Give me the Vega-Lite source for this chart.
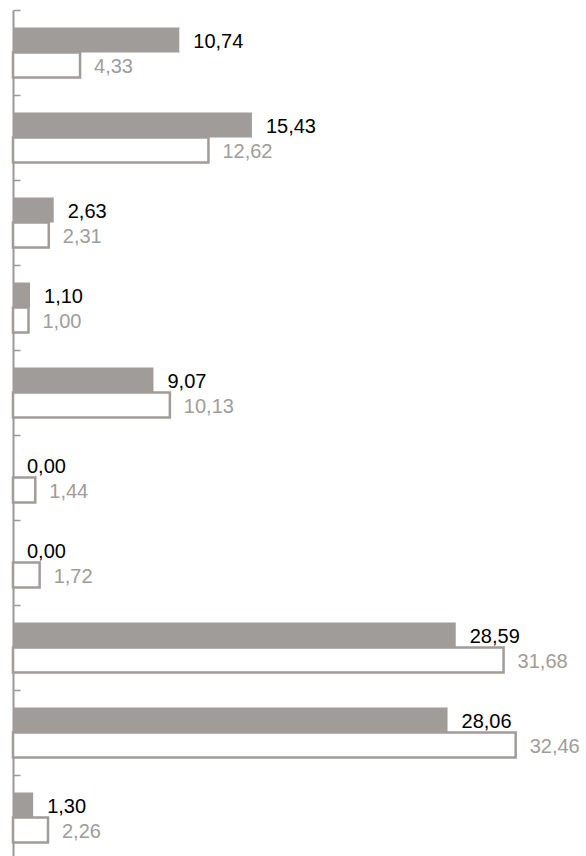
{
  "$schema": "https://vega.github.io/schema/vega-lite/v6.json",
  "width": 542,
  "height": 846,
  "padding": {"left": 13, "top": 10, "right": 31, "bottom": 0},
  "autosize": {"type": "none"},
  "config": {
    "view": {"stroke": null},
    "locale": {"number": {"decimal": ",", "thousands": ".", "grouping": [3], "currency": ["", " €"]}},
    "font": "Liberation Sans"
  },
  "data": {
    "values": [
      {"cat": "c1", "series": "A", "value": 10.74},
      {"cat": "c1", "series": "B", "value": 4.33},
      {"cat": "c2", "series": "A", "value": 15.43},
      {"cat": "c2", "series": "B", "value": 12.62},
      {"cat": "c3", "series": "A", "value": 2.63},
      {"cat": "c3", "series": "B", "value": 2.31},
      {"cat": "c4", "series": "A", "value": 1.10},
      {"cat": "c4", "series": "B", "value": 1.00},
      {"cat": "c5", "series": "A", "value": 9.07},
      {"cat": "c5", "series": "B", "value": 10.13},
      {"cat": "c6", "series": "A", "value": 0.00},
      {"cat": "c6", "series": "B", "value": 1.44},
      {"cat": "c7", "series": "A", "value": 0.00},
      {"cat": "c7", "series": "B", "value": 1.72},
      {"cat": "c8", "series": "A", "value": 28.59},
      {"cat": "c8", "series": "B", "value": 31.68},
      {"cat": "c9", "series": "A", "value": 28.06},
      {"cat": "c9", "series": "B", "value": 32.46},
      {"cat": "c10", "series": "A", "value": 1.30},
      {"cat": "c10", "series": "B", "value": 2.26}
    ]
  },
  "encoding": {
    "y": {
      "field": "cat", "type": "nominal", "sort": null,
      "scale": {"paddingInner": 0, "paddingOuter": 0, "range": [0, 850]},
      "axis": {
        "title": null, "labels": false, "tickBand": "extent",
        "domainColor": "#999999", "domainWidth": 2,
        "tickColor": "#999999", "tickWidth": 1.5, "tickSize": -7, "grid": false
      }
    },
    "yOffset": {"field": "series", "type": "nominal", "scale": {"domain": ["A", "B"], "paddingOuter": 0.7, "paddingInner": 0}},
    "x": {"field": "value", "type": "quantitative", "scale": {"domain": [0, 35], "nice": false, "zero": true}, "axis": null}
  },
  "layer": [
    {
      "transform": [{"filter": "datum.series === 'A'"}],
      "mark": {"type": "bar", "color": "#a09c99", "cornerRadius": 0}
    },
    {
      "transform": [{"filter": "datum.series === 'B'"}],
      "mark": {"type": "bar", "fill": "#ffffff", "stroke": "#a09c99", "strokeWidth": 2.5}
    },
    {
      "mark": {"type": "text", "align": "left", "baseline": "middle", "dx": 14, "dy": 2, "fontSize": 20},
      "encoding": {
        "text": {"field": "value", "type": "quantitative", "format": ".2f"},
        "color": {"field": "series", "type": "nominal", "scale": {"domain": ["A", "B"], "range": ["#000000", "#a09c99"]}, "legend": null}
      }
    }
  ]
}
